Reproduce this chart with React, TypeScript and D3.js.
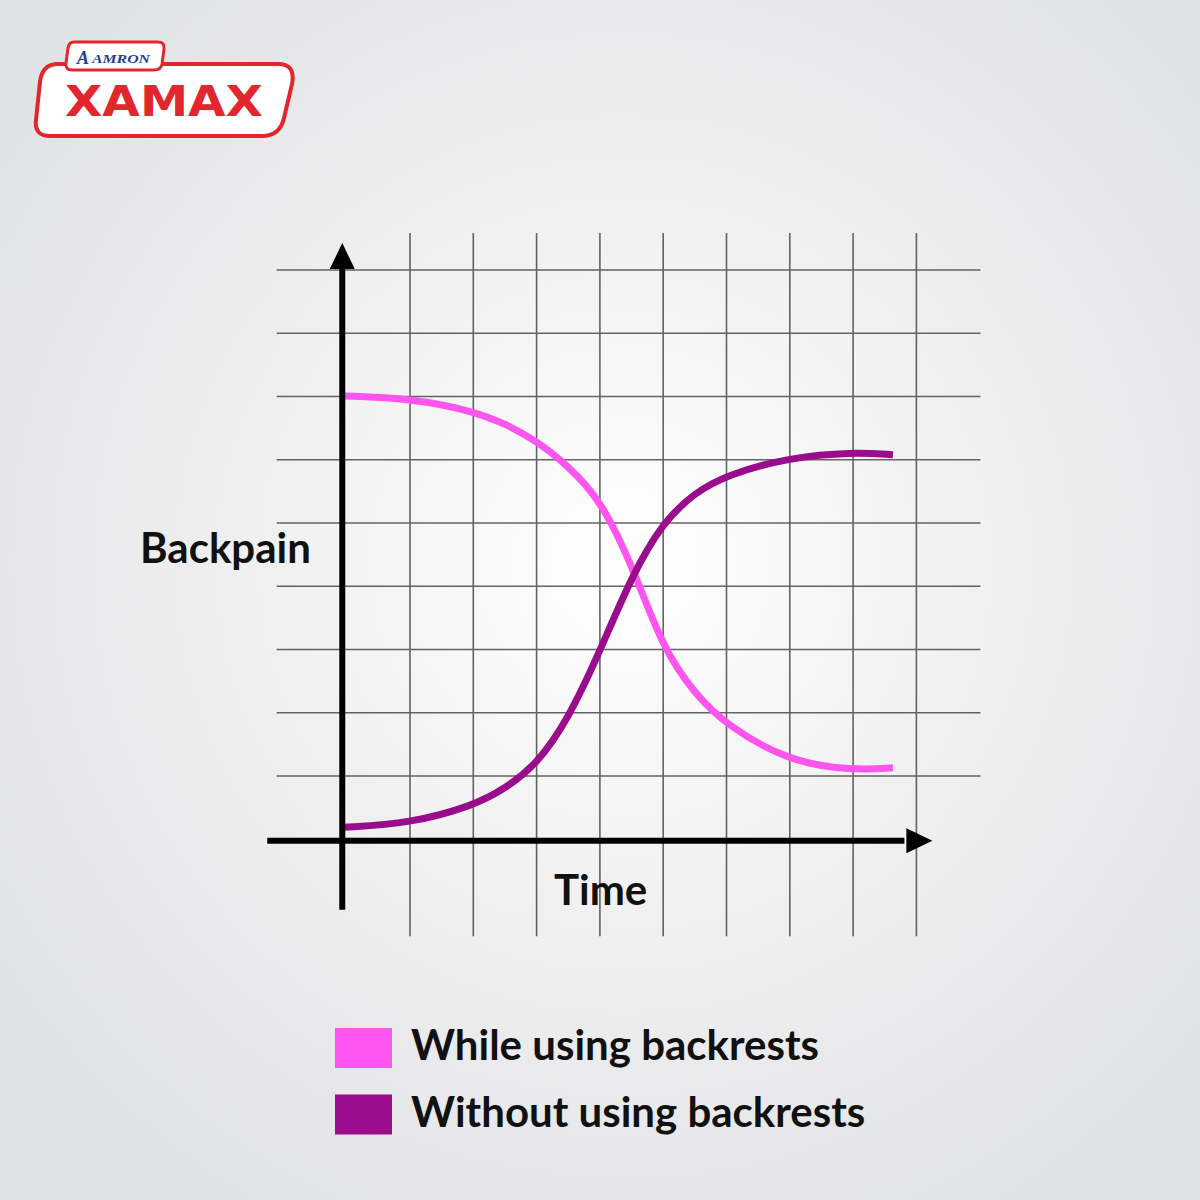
import { useEffect, useRef } from 'react';
import * as d3 from 'd3';

interface Pt {
  t: number;
  v: number;
}

// time positions in grid units (grid line k sits at t = k)
const times = [-0.06, 1, 2, 2.5, 3, 3.5, 4, 4.5, 5, 5.5, 6, 7, 8, 8.63];
// backpain while using backrests
const withBackrest = [7.01, 6.97, 6.77, 6.57, 6.3, 5.9, 5.38, 4.36, 3.0, 2.3, 1.8, 1.22, 1.09, 1.13];
// backpain without using backrests
const withoutBackrest = [0.19, 0.25, 0.53, 0.8, 1.18, 1.9, 2.97, 4.16, 5.02, 5.48, 5.76, 6.04, 6.12, 6.08];

const gridCols = [1, 2, 3, 4, 5, 6, 7, 8, 9];
const gridRows = [1, 2, 3, 4, 5, 6, 7, 8, 9];

const seriesNames = ['While using backrests', 'Without using backrests'];
const seriesColors = ['#ff55ef', '#990d8d'];

const FONT = "Lato, 'Noto Sans', sans-serif";

const App = () => {
  const ref = useRef<SVGSVGElement>(null);

  useEffect(() => {
    const svg = d3.select(ref.current);
    svg.selectAll('*').remove();

    const width = 1200;
    const height = 1200;

    const defs = svg.append('defs');
    const grad = defs.append('radialGradient')
      .attr('id', 'bg')
      .attr('cx', 0.52)
      .attr('cy', 0.47)
      .attr('r', 0.62);
    grad.append('stop').attr('offset', '0%').attr('stop-color', '#ffffff');
    grad.append('stop').attr('offset', '45%').attr('stop-color', '#f1f1f2');
    grad.append('stop').attr('offset', '100%').attr('stop-color', '#e1e2e4');

    svg.append('rect')
      .attr('width', width)
      .attr('height', height)
      .attr('fill', 'url(#bg)');

    const x = d3.scaleLinear().domain([0, 9]).range([346.7, 916.4]);
    const y = d3.scaleLinear().domain([0, 9]).range([839.3, 270]);

    // grid
    const grid = svg.append('g').attr('stroke', '#4a4a4a').attr('stroke-width', 1.6).attr('opacity', 0.85);
    grid.selectAll('.vline')
      .data(gridCols)
      .enter()
      .append('line')
      .attr('x1', d => x(d))
      .attr('x2', d => x(d))
      .attr('y1', y(9) - 37)
      .attr('y2', y(0) + 97);
    grid.selectAll('.hline')
      .data(gridRows)
      .enter()
      .append('line')
      .attr('x1', x(0) - 70)
      .attr('x2', x(9) + 64)
      .attr('y1', d => y(d))
      .attr('y2', d => y(d));

    // curves
    const line = d3.line<Pt>()
      .x(d => x(d.t))
      .y(d => y(d.v))
      .curve(d3.curveBasis);

    const series = [withBackrest, withoutBackrest];
    series.forEach((vals, i) => {
      const data: Pt[] = times.map((t, j) => ({ t, v: vals[j] }));
      svg.append('path')
        .datum(data)
        .attr('d', line)
        .attr('fill', 'none')
        .attr('stroke', seriesColors[i])
        .attr('stroke-width', 7);
    });

    // axes
    const ax = x(-0.07);
    const ay = y(0) + 1.5;
    svg.append('line')
      .attr('x1', ax).attr('x2', ax)
      .attr('y1', ay + 69).attr('y2', y(9) - 4)
      .attr('stroke', '#000').attr('stroke-width', 6);
    svg.append('path')
      .attr('d', `M${ax},${y(9) - 27} L${ax + 12.5},${y(9) - 1} L${ax - 12.5},${y(9) - 1} Z`)
      .attr('fill', '#000');
    svg.append('line')
      .attr('x1', ax - 75).attr('x2', x(9) - 12)
      .attr('y1', ay).attr('y2', ay)
      .attr('stroke', '#000').attr('stroke-width', 6);
    svg.append('path')
      .attr('d', `M${x(9) + 16},${ay} L${x(9) - 10},${ay - 12.5} L${x(9) - 10},${ay + 12.5} Z`)
      .attr('fill', '#000');

    // axis labels
    svg.append('text')
      .attr('x', 140).attr('y', 563)
      .attr('font-family', FONT).attr('font-weight', 700).attr('font-size', 42)
      .attr('fill', '#111')
      .text('Backpain');
    svg.append('text')
      .attr('x', 554).attr('y', 905)
      .attr('font-family', FONT).attr('font-weight', 700).attr('font-size', 42)
      .attr('fill', '#111')
      .text('Time');

    // legend
    const legend = svg.append('g').attr('transform', 'translate(335,1028)');
    seriesNames.forEach((name, i) => {
      const g = legend.append('g').attr('transform', `translate(0,${i * 66.5})`);
      g.append('rect').attr('width', 57).attr('height', 40).attr('fill', seriesColors[i]);
      g.append('text')
        .attr('x', 76).attr('y', 32)
        .attr('font-family', FONT).attr('font-weight', 700).attr('font-size', 42)
        .attr('fill', '#111')
        .text(name);
    });

    // logo
    const logo = svg.append('g');
    logo.append('path')
      .attr('d', 'M58,64 L278,64 Q296,64 292,84 L284,118 Q280,136 262,136 L50,136 Q34,136 36,120 L40,82 Q42,64 58,64 Z')
      .attr('fill', '#ffffff')
      .attr('stroke', '#e3262d')
      .attr('stroke-width', 4);
    logo.append('path')
      .attr('d', 'M74,42 L158,42 Q165,42 164,49 L162,64 Q161,70 154,70 L72,70 Q65,70 66,63 L68,48 Q69,42 74,42 Z')
      .attr('fill', '#ffffff')
      .attr('stroke', '#e3262d')
      .attr('stroke-width', 3);
    logo.append('text')
      .attr('x', 77).attr('y', 64)
      .attr('font-family', "'Liberation Serif', serif")
      .attr('font-style', 'italic').attr('font-weight', 700)
      .attr('font-size', 18).attr('fill', '#1c3f95')
      .text('A');
    logo.append('text')
      .attr('x', 92).attr('y', 63)
      .attr('font-family', "'Liberation Serif', serif")
      .attr('font-style', 'italic').attr('font-weight', 700)
      .attr('font-size', 13).attr('fill', '#1c3f95')
      .attr('textLength', 58)
      .attr('lengthAdjust', 'spacingAndGlyphs')
      .text('AMRON');
    logo.append('text')
      .attr('x', 164).attr('y', 116)
      .attr('text-anchor', 'middle')
      .attr('font-family', "'DejaVu Sans', sans-serif")
      .attr('font-weight', 700).attr('font-size', 42)
      .attr('fill', '#e3262d')
      .attr('textLength', 198)
      .attr('lengthAdjust', 'spacingAndGlyphs')
      .text('XAMAX');
  }, []);

  return (
    <svg ref={ref} width={1200} height={1200} style={{ position: 'absolute', left: 0, top: 0 }} />
  );
};

export default App;
